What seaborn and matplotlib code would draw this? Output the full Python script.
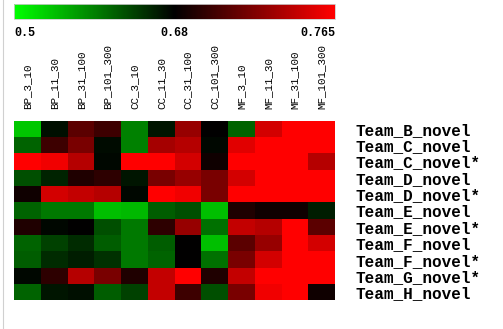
import numpy as np
import pandas as pd
import matplotlib
matplotlib.use("Agg")
import matplotlib.pyplot as plt
import seaborn as sns
from matplotlib.colors import LinearSegmentedColormap, TwoSlopeNorm
from matplotlib.lines import Line2D

columns = ["BP_3_10", "BP_11_30", "BP_31_100", "BP_101_300",
           "CC_3_10", "CC_11_30", "CC_31_100", "CC_101_300",
           "MF_3_10", "MF_11_30", "MF_31_100", "MF_101_300"]
rows = ["Team_B_novel", "Team_C_novel", "Team_C_novel*", "Team_D_novel",
        "Team_D_novel*", "Team_E_novel", "Team_E_novel*", "Team_F_novel",
        "Team_F_novel*", "Team_G_novel*", "Team_H_novel"]

team_b = [0.54, 0.67, 0.71, 0.70, 0.59, 0.665, 0.73, 0.68, 0.61, 0.75, 0.765, 0.765]
team_c = [0.61, 0.70, 0.72, 0.672, 0.59, 0.735, 0.74, 0.675, 0.755, 0.765, 0.765, 0.765]
team_c_s = [0.765, 0.76, 0.74, 0.675, 0.765, 0.765, 0.75, 0.685, 0.765, 0.765, 0.765, 0.74]
team_d = [0.625, 0.655, 0.69, 0.695, 0.665, 0.72, 0.73, 0.72, 0.75, 0.765, 0.765, 0.765]
team_d_s = [0.685, 0.75, 0.745, 0.74, 0.675, 0.765, 0.76, 0.72, 0.765, 0.765, 0.765, 0.765]
team_e = [0.61, 0.595, 0.595, 0.545, 0.55, 0.615, 0.625, 0.545, 0.69, 0.685, 0.685, 0.66]
team_e_s = [0.69, 0.675, 0.68, 0.625, 0.595, 0.695, 0.73, 0.6, 0.745, 0.74, 0.765, 0.71]
team_f = [0.61, 0.635, 0.65, 0.615, 0.595, 0.615, 0.68, 0.545, 0.71, 0.73, 0.765, 0.75]
team_f_s = [0.615, 0.65, 0.66, 0.645, 0.595, 0.61, 0.68, 0.6, 0.72, 0.75, 0.765, 0.765]
team_g_s = [0.675, 0.695, 0.74, 0.72, 0.69, 0.745, 0.765, 0.69, 0.745, 0.765, 0.765, 0.765]
team_h = [0.61, 0.665, 0.67, 0.615, 0.635, 0.745, 0.70, 0.625, 0.72, 0.76, 0.765, 0.685]

cbar_ticks = [0.5, 0.68, 0.765]
cbar_ticklabels = ["0.5", "0.68", "0.765"]

data = pd.DataFrame([team_b, team_c, team_c_s, team_d, team_d_s, team_e,
                     team_e_s, team_f, team_f_s, team_g_s, team_h],
                    index=rows, columns=columns)

W, H = 503, 329
fig = plt.figure(figsize=(W / 100, H / 100), dpi=100)
fig.patch.set_facecolor("white")

ax = fig.add_axes([14 / W, 1 - 300.5 / H, 321 / W, 180 / H])
cax = fig.add_axes([14 / W, 1 - 18.7 / H, 321 / W, 14.5 / H])

cmap = LinearSegmentedColormap.from_list("gbr", ["#00ff00", "#000000", "#ff0000"])
norm = TwoSlopeNorm(vmin=0.5, vcenter=0.68, vmax=0.765)

sns.heatmap(data, ax=ax, cmap=cmap, norm=norm, cbar_ax=cax,
            cbar_kws={"orientation": "horizontal", "ticks": cbar_ticks},
            xticklabels=True, yticklabels=True)

mono = "Liberation Mono"

ax.xaxis.tick_top()
ax.yaxis.tick_right()
ax.tick_params(axis="both", length=0)
ax.tick_params(axis="x", pad=8)
ax.tick_params(axis="y", pad=14.5)
for t in ax.get_xticklabels():
    t.set_rotation(90)
    t.set_fontfamily(mono)
    t.set_fontsize(7.8)
    t.set_ha("center")
    t.set_va("bottom")
for t in ax.get_yticklabels():
    t.set_rotation(0)
    t.set_fontfamily(mono)
    t.set_fontweight("bold")
    t.set_fontsize(11.5)
    t.set_ha("left")
ax.set_xlabel("")
ax.set_ylabel("")

cbar = ax.collections[0].colorbar
cbar.outline.set_edgecolor("#cccccc")
cbar.outline.set_linewidth(0.6)
cax.set_xticks(cbar_ticks)
cax.set_xticklabels(cbar_ticklabels)
cax.tick_params(axis="x", length=0, pad=6)
labels = cax.get_xticklabels()
for i, t in enumerate(labels):
    t.set_fontfamily(mono)
    t.set_fontsize(8.5)
    t.set_fontweight("bold")
labels[0].set_ha("left")
labels[-1].set_ha("right")

fig.add_artist(Line2D([3.3 / W, 3.3 / W], [0, 1], color="#d0d0d0", lw=0.8))

fig.savefig("out.png", dpi=100)
